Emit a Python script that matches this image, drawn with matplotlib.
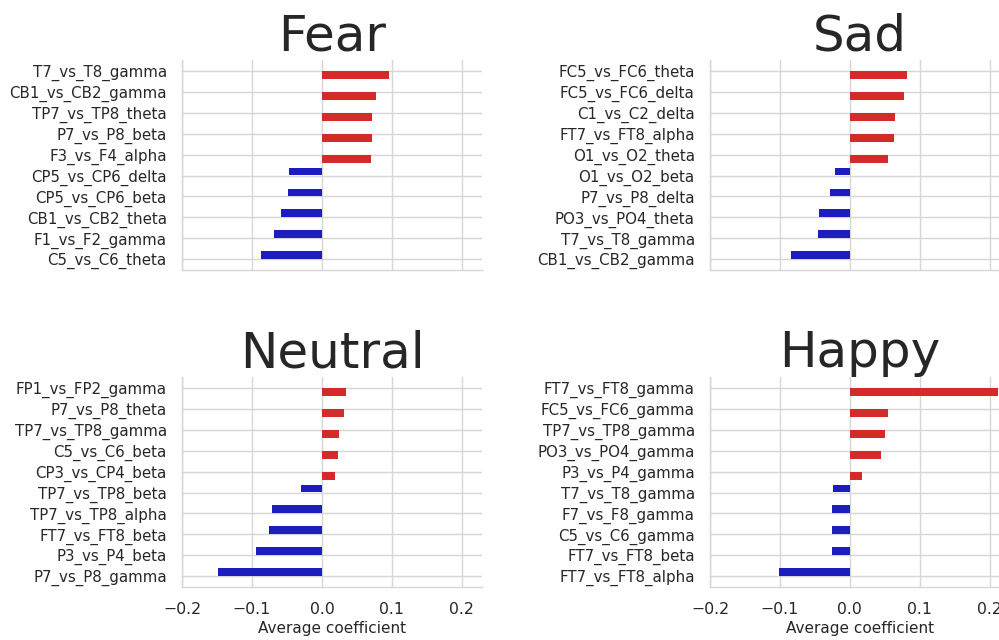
import matplotlib
matplotlib.use("Agg")
import matplotlib.pyplot as plt
import numpy as np

# data (top row of each list = top bar)
fear_labels = ['T7_vs_T8_gamma', 'CB1_vs_CB2_gamma', 'TP7_vs_TP8_theta', 'P7_vs_P8_beta',
               'F3_vs_F4_alpha', 'CP5_vs_CP6_delta', 'CP5_vs_CP6_beta', 'CB1_vs_CB2_theta',
               'F1_vs_F2_gamma', 'C5_vs_C6_theta']
fear_values = [0.096, 0.078, 0.072, 0.071, 0.070, -0.047, -0.049, -0.059, -0.068, -0.087]

sad_labels = ['FC5_vs_FC6_theta', 'FC5_vs_FC6_delta', 'C1_vs_C2_delta', 'FT7_vs_FT8_alpha',
              'O1_vs_O2_theta', 'O1_vs_O2_beta', 'P7_vs_P8_delta', 'PO3_vs_PO4_theta',
              'T7_vs_T8_gamma', 'CB1_vs_CB2_gamma']
sad_values = [0.082, 0.078, 0.065, 0.063, 0.055, -0.021, -0.029, -0.044, -0.045, -0.084]

neutral_labels = ['FP1_vs_FP2_gamma', 'P7_vs_P8_theta', 'TP7_vs_TP8_gamma', 'C5_vs_C6_beta',
                  'CP3_vs_CP4_beta', 'TP7_vs_TP8_beta', 'TP7_vs_TP8_alpha', 'FT7_vs_FT8_beta',
                  'P3_vs_P4_beta', 'P7_vs_P8_gamma']
neutral_values = [0.035, 0.032, 0.025, 0.023, 0.019, -0.030, -0.071, -0.075, -0.094, -0.148]

happy_labels = ['FT7_vs_FT8_gamma', 'FC5_vs_FC6_gamma', 'TP7_vs_TP8_gamma', 'PO3_vs_PO4_gamma',
                'P3_vs_P4_gamma', 'T7_vs_T8_gamma', 'F7_vs_F8_gamma', 'C5_vs_C6_gamma',
                'FT7_vs_FT8_beta', 'FT7_vs_FT8_alpha']
happy_values = [0.212, 0.055, 0.050, 0.044, 0.018, -0.024, -0.025, -0.025, -0.026, -0.101]

x_ticks = [-0.2, -0.1, 0.0, 0.1, 0.2]

RED = '#d42a2a'
BLUE = '#1d1dbf'
TXT = '#262626'
GRID = '#d6d6d6'

fig = plt.figure(figsize=(9.99, 6.4), dpi=100)

# axes positions in figure fractions (right column runs off the canvas like the original)
panels = [
    ('Fear', fear_labels, fear_values, [0.1822, 0.578, 0.3003, 0.328], False),
    ('Sad', sad_labels, sad_values, [0.7107, 0.578, 0.3003, 0.328], False),
    ('Neutral', neutral_labels, neutral_values, [0.1822, 0.0828, 0.3003, 0.328], True),
    ('Happy', happy_labels, happy_values, [0.7107, 0.0828, 0.3003, 0.328], True),
]

for title, labels, values, pos, bottom in panels:
    ax = fig.add_axes(pos)
    vals = np.array(values)
    y = np.arange(len(labels))
    pos_mask = vals > 0
    # dodged like a hue split: positive bars sit below the row line, negative above
    ax.barh(y[pos_mask] + 0.2, vals[pos_mask], height=0.36, color=RED, zorder=3)
    ax.barh(y[~pos_mask] - 0.2, vals[~pos_mask], height=0.36, color=BLUE, zorder=3)

    ax.set_yticks(y)
    ax.set_yticklabels(labels, fontsize=10.8, color=TXT)
    ax.set_xticks(x_ticks)
    ax.set_xlim(-0.2, 0.229)
    ax.set_ylim(9.52, -0.52)
    ax.grid(True, color=GRID, linewidth=1, zorder=0)
    ax.set_axisbelow(True)
    ax.tick_params(axis='both', length=0, pad=11)
    ax.tick_params(axis='x', labelsize=11.3, labelcolor=TXT)
    for s in ['top', 'right']:
        ax.spines[s].set_visible(False)
    for s in ['left', 'bottom']:
        ax.spines[s].set_color(GRID)
        ax.spines[s].set_linewidth(1)
    ax.set_title(title, fontsize=36, color=TXT, pad=7)
    if bottom:
        ax.set_xlabel('Average coefficient', fontsize=11, color=TXT, labelpad=3)
    else:
        ax.set_xticklabels([])

fig.savefig('out.png', dpi=100)
